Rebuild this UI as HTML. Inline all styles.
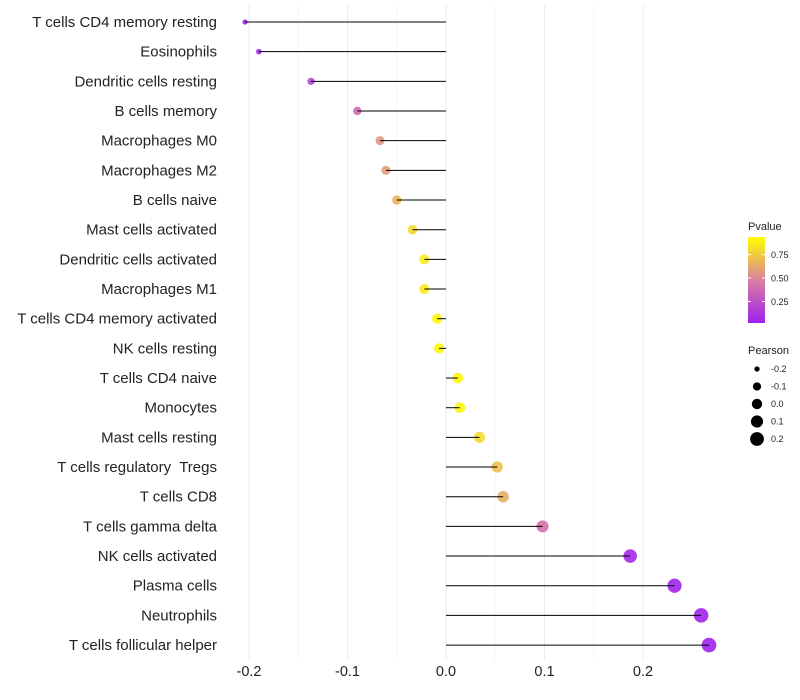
<!DOCTYPE html>
<html><head><meta charset="utf-8"><style>
body{margin:0;background:#fff;font-family:"Liberation Sans",sans-serif}
text{white-space:pre}
</style></head><body>
<svg id="chart" width="800" height="700" style="position:absolute;left:0;top:0"></svg>
<script>
const categories=["T cells CD4 memory resting","Eosinophils","Dendritic cells resting","B cells memory","Macrophages M0","Macrophages M2","B cells naive","Mast cells activated","Dendritic cells activated","Macrophages M1","T cells CD4 memory activated","NK cells resting","T cells CD4 naive","Monocytes","Mast cells resting","T cells regulatory  Tregs","T cells CD8","T cells gamma delta","NK cells activated","Plasma cells","Neutrophils","T cells follicular helper"];
const pearson=[-0.204,-0.190,-0.137,-0.090,-0.067,-0.061,-0.050,-0.034,-0.022,-0.022,-0.009,-0.007,0.012,0.014,0.034,0.052,0.058,0.098,0.187,0.232,0.259,0.267];
const pvalues=[0.01,0.03,0.2,0.4,0.6,0.62,0.7,0.85,0.92,0.92,0.98,0.98,0.97,0.96,0.85,0.75,0.68,0.42,0.04,0.02,0.01,0.01];
const xTicks=[-0.2,-0.1,0.0,0.1,0.2];
const xTickLabels=["-0.2","-0.1","0.0","0.1","0.2"];
const pTicks=[0.25,0.5,0.75];
const sizeTicks=[-0.2,-0.1,0.0,0.1,0.2];
const NS="http://www.w3.org/2000/svg";
const svg=document.getElementById('chart');
const x=v=>446+v*985;
const y=i=>22+i*29.67;
const r=v=>Math.sqrt(Math.max(1,27+100*v));
function col(p){
 const s=[[0,[160,32,240]],[0.5,[218,128,160]],[1,[255,255,0]]];
 let a=s[0],b=s[1]; if(p>0.5){a=s[1];b=s[2];}
 const t=(p-a[0])/(b[0]-a[0]);
 return 'rgb('+a[1].map((c,k)=>Math.round(c+(b[1][k]-c)*t)).join(',')+')';
}
function el(tag,attrs,txt){const e=document.createElementNS(NS,tag);for(const k in attrs)e.setAttribute(k,attrs[k]);if(txt!==undefined)e.textContent=txt;svg.appendChild(e);return e;}
for(let i=0;i<xTicks.length;i++){
 const g=el('line',{x1:x(xTicks[i]),x2:x(xTicks[i]),y1:5,y2:660,stroke:'#ebebeb','stroke-width':1});
 
 
 if(i<xTicks.length-1){const m=el('line',{x1:x((xTicks[i]+xTicks[i+1])/2),x2:x((xTicks[i]+xTicks[i+1])/2),y1:5,y2:660,stroke:'#f5f5f5','stroke-width':1});
 
 }
 const t=el('text',{x:x(xTicks[i]),y:676,'text-anchor':'middle','font-size':14.5,fill:'#222'},xTickLabels[i]);
 
 
}
categories.forEach((c,i)=>{
 const t=el('text',{x:217,y:y(i)+5,'text-anchor':'end','font-size':15,fill:'#222'},c);
 
 
 const p=el('circle',{cx:x(pearson[i]),cy:y(i),r:r(pearson[i]),fill:col(pvalues[i]),'fill-opacity':0.9});
 
 
 const l=el('line',{x1:x(0),x2:x(pearson[i]),y1:y(i),y2:y(i),stroke:'#000','stroke-width':1});
 
 
});
const defs=el('defs',{});
const lg=document.createElementNS(NS,'linearGradient');lg.setAttribute('id','pg');lg.setAttribute('x1','0');lg.setAttribute('y1','1');lg.setAttribute('x2','0');lg.setAttribute('y2','0');
[0,0.5,1].forEach(o=>{const s=document.createElementNS(NS,'stop');s.setAttribute('offset',o);s.setAttribute('stop-color',col(o));lg.appendChild(s);});
defs.appendChild(lg);
const lt=el('text',{x:748,y:230,'font-size':11,fill:'#222'},'Pvalue');


const bar=el('rect',{x:748,y:237,width:17,height:86,fill:'url(#pg)'});


const py=p=>325-p*94;
pTicks.forEach(p=>{
 el('line',{x1:748,x2:751,y1:py(p),y2:py(p),stroke:'#fff'});el('line',{x1:762,x2:765,y1:py(p),y2:py(p),stroke:'#fff'});
 const t=el('text',{x:771,y:py(p)+3.5,'font-size':9,fill:'#222'},p.toFixed(2));
 
 
});
const st=el('text',{x:748,y:354,'font-size':11,fill:'#222'},'Pearson');


sizeTicks.forEach((s,i)=>{
 const c=el('circle',{cx:757,cy:369+i*17.5,r:r(s),fill:'#000'});
 
 
 const t=el('text',{x:771,y:372+i*17.5,'font-size':9,fill:'#222'},s.toFixed(1));
 
 
});
</script>
</body></html>
